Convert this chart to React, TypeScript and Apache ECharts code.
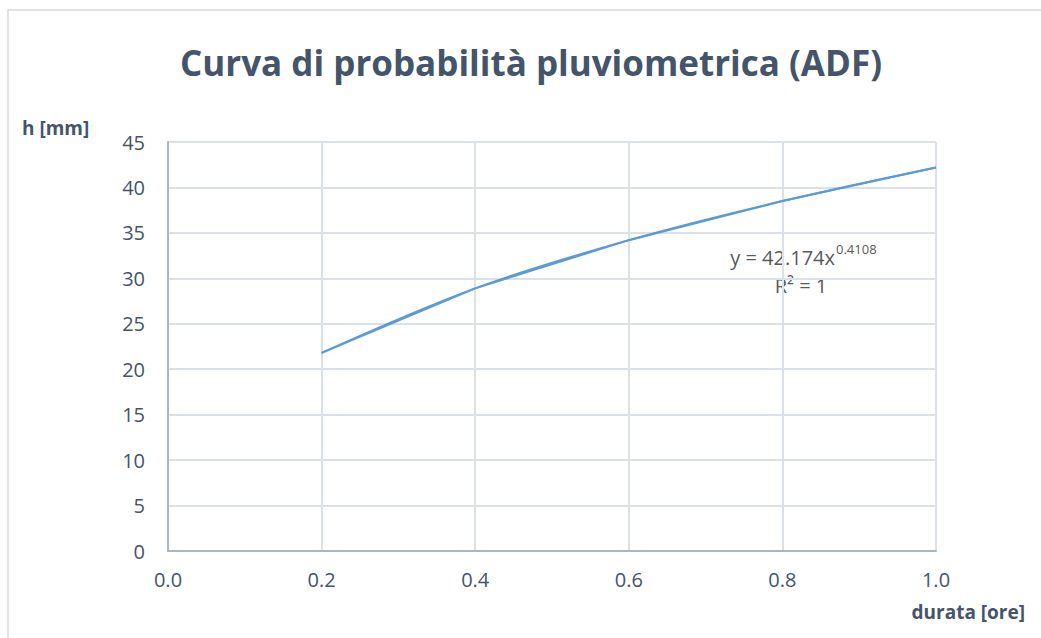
import React, { useEffect, useRef } from "react";
import * as echarts from "echarts";

// Durata (ore) and altezza di pioggia h (mm)
const durations = [0.2, 0.4, 0.6, 0.8, 1.0];
const heights = [21.8, 28.9, 34.2, 38.5, 42.2];

const xTicks = { min: 0, max: 1, interval: 0.2 };
const yTicks = { min: 0, max: 45, interval: 5 };

const titleText = "Curva di probabilità pluviometrica (ADF)";
const yName = "h [mm]";
const xName = "durata [ore]";
const eqMain = "y = 42.174x";
const eqExp = "0.4108";
const r2Text = "R² = 1";

const FONT = "'Open Sans', 'Noto Sans', sans-serif";
const TEXT = "#44546A";
const LINE = "#5B9BD5";

export default function App() {
  const ref = useRef<HTMLDivElement>(null);

  useEffect(() => {
    document.body.style.margin = "0";
    if (!ref.current) return;
    const chart = echarts.init(ref.current, undefined, { renderer: "svg" });
    const pts = durations.map((d, i) => [d, heights[i]]);

    chart.setOption({
      animation: false,
      backgroundColor: "#ffffff",
      grid: { left: 168, right: 105, top: 142, bottom: 87 },
      xAxis: {
        type: "value",
        min: xTicks.min,
        max: xTicks.max,
        interval: xTicks.interval,
        axisLine: { show: true, lineStyle: { color: "#A9B4C4", width: 2 } },
        axisTick: { show: false },
        axisLabel: {
          color: TEXT,
          fontFamily: FONT,
          fontSize: 20,
          margin: 18,
          formatter: (v: number) => v.toFixed(1),
        },
        splitLine: { show: true, lineStyle: { color: "#DCE1E8", width: 2 } },
      },
      yAxis: {
        type: "value",
        min: yTicks.min,
        max: yTicks.max,
        interval: yTicks.interval,
        axisLine: { show: true, lineStyle: { color: "#A9B4C4", width: 2 } },
        axisTick: { show: false },
        axisLabel: { color: TEXT, fontFamily: FONT, fontSize: 20, margin: 23 },
        splitLine: { show: true, lineStyle: { color: "#DCE1E8", width: 2 } },
      },
      series: [
        {
          type: "line",
          data: pts,
          showSymbol: false,
          lineStyle: { color: LINE, width: 2 },
          z: 3,
        },
        {
          // power trendline, drawn as a smooth curve through the same points
          type: "line",
          data: pts,
          smooth: 0.35,
          showSymbol: false,
          lineStyle: { color: LINE, width: 2 },
          z: 2,
        },
      ],
      graphic: [
        {
          type: "rect",
          shape: { x: 8, y: 10, width: 1100, height: 700 },
          style: { fill: "none", stroke: "#D9D9D9", lineWidth: 1.5 },
          silent: true,
        },
        {
          type: "text",
          x: 531,
          y: 62,
          style: {
            text: titleText,
            fill: TEXT,
            font: `bold 35px ${FONT}`,
            align: "center",
            verticalAlign: "middle",
          },
        },
        {
          type: "text",
          x: 22,
          y: 128,
          style: {
            text: yName,
            fill: TEXT,
            font: `bold 19px ${FONT}`,
            align: "left",
            verticalAlign: "middle",
          },
        },
        {
          type: "text",
          x: 1025,
          y: 612,
          style: {
            text: xName,
            fill: TEXT,
            font: `bold 19px ${FONT}`,
            align: "right",
            verticalAlign: "middle",
          },
        },
        {
          type: "text",
          x: 835,
          y: 257,
          style: {
            text: eqMain,
            fill: "#595959",
            font: `20px ${FONT}`,
            align: "right",
            verticalAlign: "middle",
          },
        },
        {
          type: "text",
          x: 836,
          y: 249,
          style: {
            text: eqExp,
            fill: "#595959",
            font: `13px ${FONT}`,
            align: "left",
            verticalAlign: "middle",
          },
        },
        {
          type: "text",
          x: 801,
          y: 285,
          style: {
            text: r2Text,
            fill: "#595959",
            font: `20px ${FONT}`,
            align: "center",
            verticalAlign: "middle",
          },
        },
      ],
    });

    return () => chart.dispose();
  }, []);

  return <div ref={ref} style={{ width: 1041, height: 638 }} />;
}
